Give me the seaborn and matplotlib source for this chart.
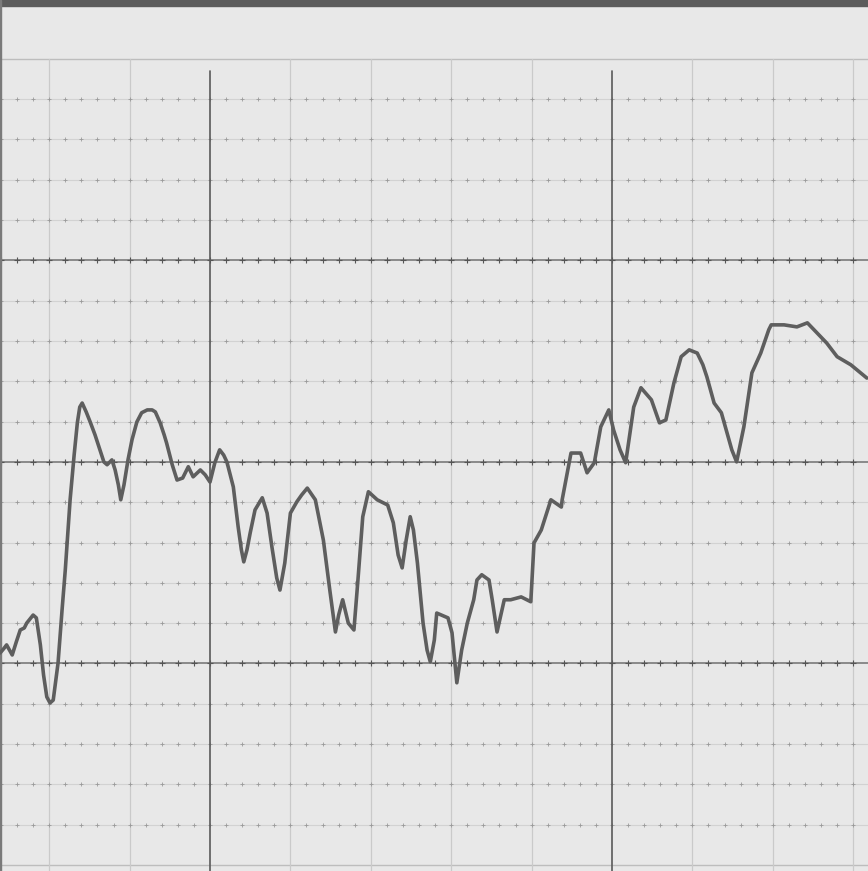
import numpy as np
import pandas as pd
import seaborn as sns
import matplotlib.pyplot as plt

# Trace (x: chart divisions, y: divisions from centre line)
time_div = [-2.61, -2.56, -2.53, -2.46, -2.41, -2.36, -2.31, -2.28, -2.20, -2.16,
            -2.11, -2.07, -2.03, -1.99, -1.95, -1.89, -1.84, -1.80, -1.74, -1.69,
            -1.65, -1.62, -1.59, -1.54, -1.49, -1.43, -1.37, -1.32, -1.28, -1.22,
            -1.18, -1.14, -1.11, -1.07, -1.02, -0.97, -0.91, -0.85, -0.78, -0.72,
            -0.68, -0.62, -0.57, -0.54, -0.47, -0.41, -0.34, -0.27, -0.21, -0.12,
            -0.06, 0.00, 0.06, 0.12, 0.17, 0.21, 0.29, 0.35, 0.39, 0.42,
            0.46, 0.50, 0.56, 0.65, 0.71, 0.77, 0.83, 0.87, 0.93, 1.00,
            1.08, 1.14, 1.21, 1.31, 1.41, 1.49, 1.56, 1.60, 1.65, 1.72,
            1.79, 1.84, 1.90, 1.97, 2.08, 2.21, 2.28, 2.34, 2.39, 2.44,
            2.49, 2.53, 2.58, 2.65, 2.70, 2.74, 2.79, 2.82, 2.96, 3.01,
            3.07, 3.13, 3.20, 3.28, 3.32, 3.38, 3.47, 3.51, 3.57, 3.66,
            3.74, 3.87, 3.99, 4.03, 4.12, 4.24, 4.37, 4.38, 4.49, 4.61,
            4.69, 4.78, 4.86, 4.96, 5.02, 5.10, 5.17, 5.22, 5.27, 5.36,
            5.49, 5.59, 5.67, 5.77, 5.86, 5.96, 6.06, 6.13, 6.18, 6.27,
            6.36, 6.43, 6.49, 6.55, 6.64, 6.74, 6.85, 6.95, 6.98, 7.14,
            7.30, 7.43, 7.55, 7.67, 7.80, 7.97, 8.17]
signal_div = [-4.74, -4.62, -4.54, -4.79, -4.47, -4.17, -4.12, -4.00, -3.80, -3.87,
              -4.54, -5.29, -5.83, -5.98, -5.91, -4.99, -3.67, -2.68, -0.94, 0.17,
              0.97, 1.36, 1.46, 1.24, 0.99, 0.67, 0.30, 0.00, -0.07, 0.05,
              -0.20, -0.57, -0.94, -0.57, 0.05, 0.55, 0.99, 1.22, 1.29, 1.29,
              1.24, 0.97, 0.67, 0.47, -0.07, -0.45, -0.40, -0.12, -0.37, -0.20,
              -0.32, -0.50, -0.02, 0.30, 0.17, 0.00, -0.62, -1.61, -2.18, -2.48,
              -2.18, -1.76, -1.19, -0.89, -1.27, -2.11, -2.88, -3.18, -2.51, -1.27,
              -0.99, -0.82, -0.65, -0.94, -1.94, -3.18, -4.22, -3.80, -3.42, -4.00,
              -4.17, -2.93, -1.36, -0.74, -0.94, -1.07, -1.51, -2.31, -2.63, -1.94,
              -1.36, -1.69, -2.51, -4.00, -4.67, -4.96, -4.42, -3.75, -3.87, -4.24,
              -5.48, -4.67, -4.00, -3.42, -2.93, -2.80, -2.93, -3.42, -4.22, -3.42,
              -3.42, -3.35, -3.47, -2.01, -1.69, -0.94, -1.12, -0.94, 0.22, 0.22,
              -0.27, -0.02, 0.87, 1.29, 0.79, 0.30, -0.02, 0.67, 1.36, 1.84,
              1.54, 0.97, 1.04, 1.96, 2.61, 2.78, 2.70, 2.41, 2.11, 1.46,
              1.22, 0.72, 0.30, 0.00, 0.87, 2.21, 2.70, 3.28, 3.40, 3.40,
              3.35, 3.45, 3.20, 2.95, 2.61, 2.41, 2.08]

# Chart paper rulings
minor_rows = [-9, -8, -7, -6, -4, -3, -2, -1, 1, 2, 3, 4, 6, 7, 8, 9]
major_rows = [-5, 0, 5]
minor_cols = [-2, -1, 1, 2, 3, 4, 6, 7, 8]
major_cols = [0, 5]

trace = pd.DataFrame({'t': time_div, 'v': signal_div})

sns.set_style('white')
fig = plt.figure(figsize=(8.68, 8.71), dpi=100)
ax = fig.add_axes([0, 0, 1, 1])
ax.set_facecolor('#e8e8e8')
fig.patch.set_facecolor('#e8e8e8')

ticks = np.arange(-2.6, 8.2, 0.2)

# grid of the recorder paper
for r in [-10, 10]:
    ax.axhline(r, color='#bdbdbd', lw=1.0, zorder=1)
for r in minor_rows:
    ax.axhline(r, color='#d2d2d2', lw=0.8, zorder=1)
    ax.scatter(ticks, np.full(len(ticks), r), marker='+', s=8, color='#9a9a9a', lw=0.6, zorder=2)
for r in major_rows:
    ax.axhline(r, color='#707070', lw=1.1, zorder=2)
    ax.scatter(ticks, np.full(len(ticks), r), marker='+', s=14, color='#555555', lw=0.8, zorder=2)
for c in minor_cols:
    ax.axvline(c, ymax=(10 + 10.15) / 21.61, color='#cacaca', lw=0.9, zorder=1)
for c in major_cols:
    ax.axvline(c, ymax=(9.7 + 10.15) / 21.61, color='#5a5a5a', lw=1.2, zorder=2)

# dark strip at the top edge and left edge of the scan
ax.axhspan(11.3, 11.5, color='#5c5c5c', zorder=3)
ax.axvspan(-2.62, -2.595, color='#7a7a7a', zorder=3)

sns.lineplot(data=trace, x='t', y='v', color='#5e5e5e', lw=2.6, ax=ax, zorder=4,
             solid_joinstyle='round', solid_capstyle='round')

ax.set_xlim(-2.612, 8.184)
ax.set_ylim(-10.15, 11.46)
ax.set_xlabel('')
ax.set_ylabel('')
ax.set_xticks([])
ax.set_yticks([])
for s in ax.spines.values():
    s.set_visible(False)

plt.savefig('out.png', dpi=100)
